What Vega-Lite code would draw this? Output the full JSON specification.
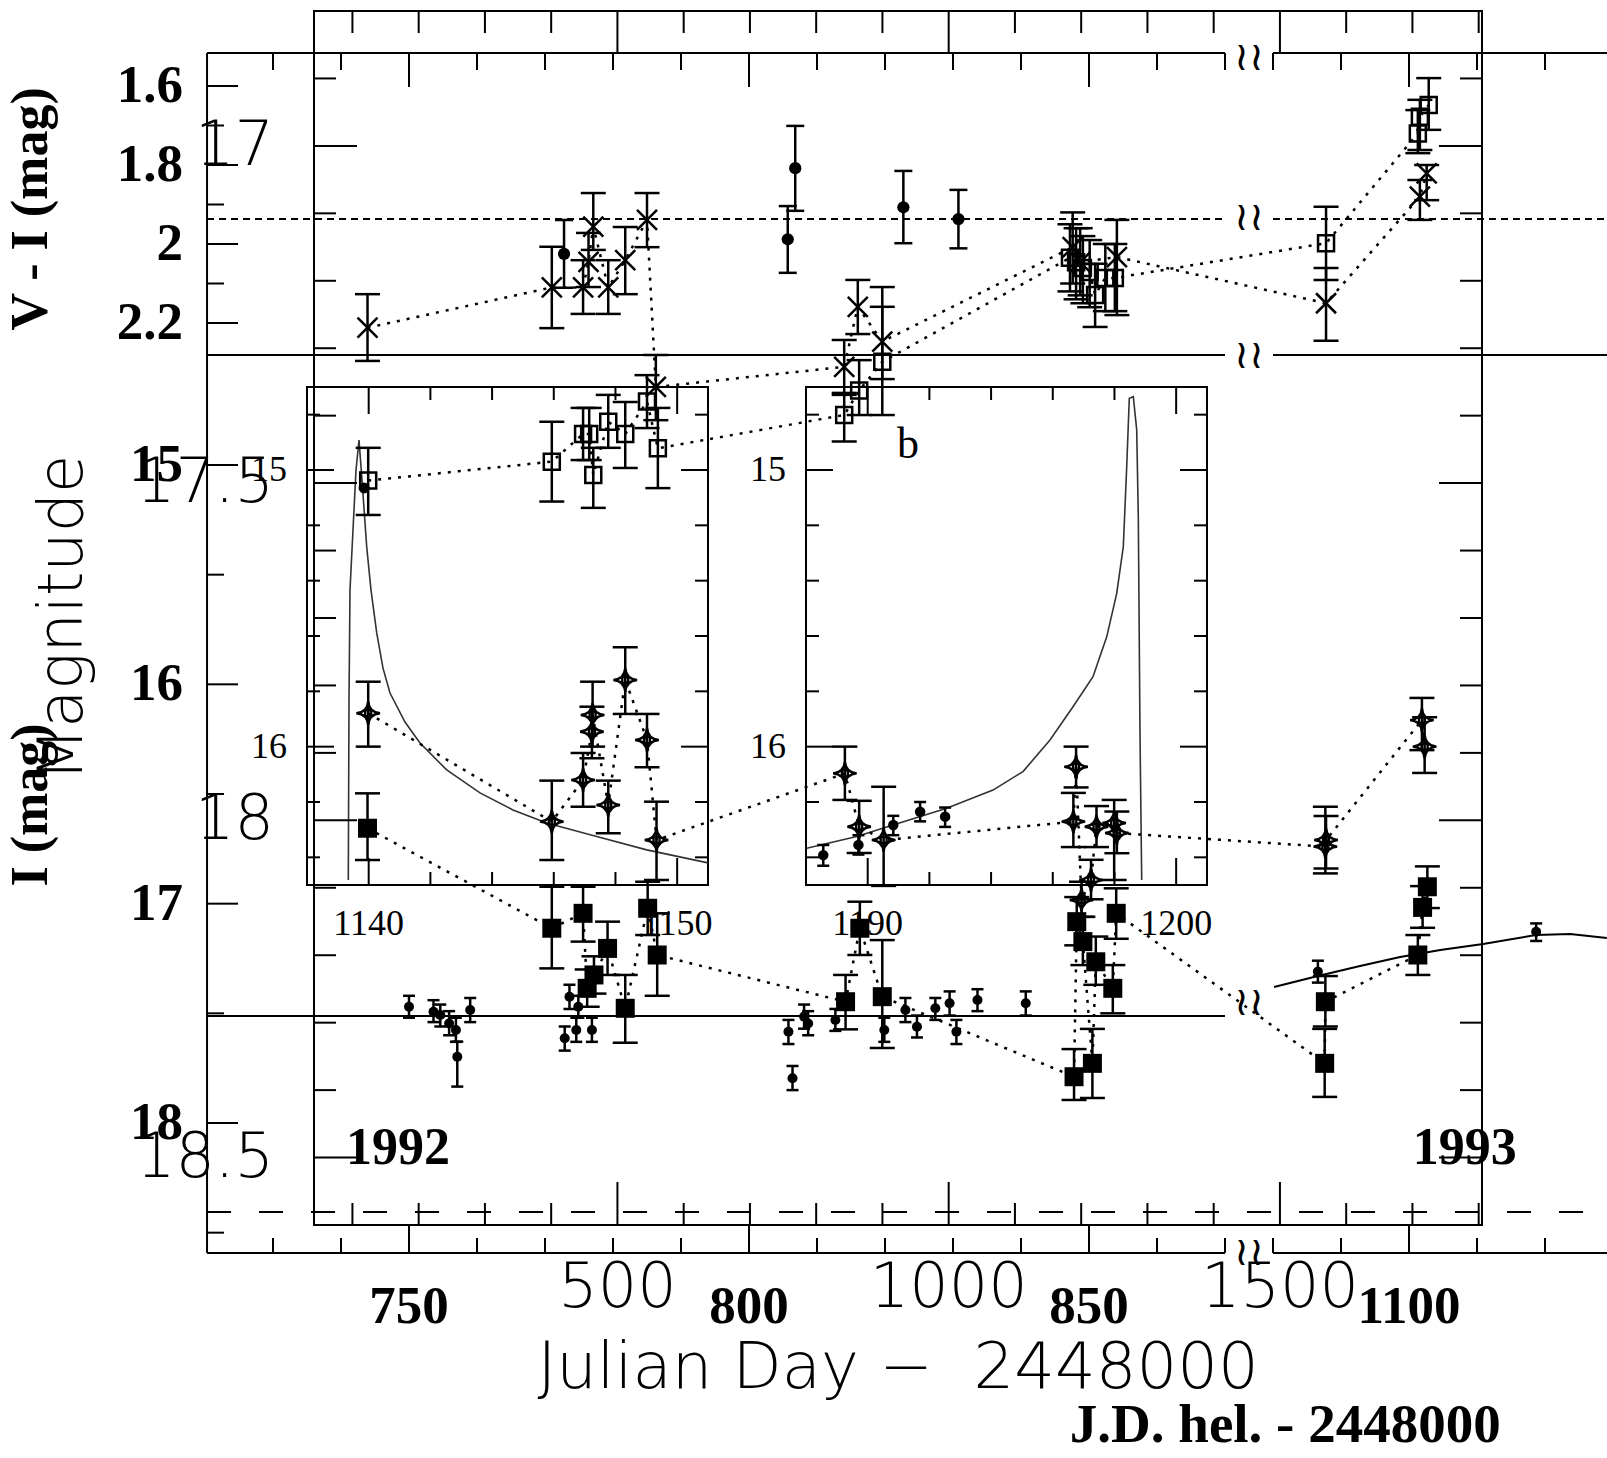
{
"$schema":"https://vega.github.io/schema/vega-lite/v6.json",
"width":1168,"height":1214,
"autosize":{"type":"none"},
"padding":{"left":314,"top":11,"right":125,"bottom":233},
"background":"white",
"config":{"view":{"stroke":"black","strokeWidth":2},"mark":{"color":"black"},"text":{"color":"black"}},
"datasets":{
"viX":[{"jd":743.9,"v":2.212,"lo":2.127,"hi":2.296},{"jd":771.0,"v":2.110,"lo":2.007,"hi":2.213},{"jd":775.6,"v":2.110,"lo":2.041,"hi":2.177},{"jd":776.4,"v":2.045,"lo":1.972,"hi":2.109},{"jd":777.1,"v":1.956,"lo":1.871,"hi":2.015},{"jd":779.3,"v":2.110,"lo":2.041,"hi":2.177},{"jd":781.8,"v":2.041,"lo":1.957,"hi":2.127},{"jd":785.0,"v":1.939,"lo":1.871,"hi":2.008},{"jd":786.3,"v":2.362,"lo":2.281,"hi":2.446},{"jd":814.0,"v":2.311,"lo":2.243,"hi":2.382},{"jd":816.0,"v":2.159,"lo":2.091,"hi":2.228},{"jd":819.6,"v":2.247,"lo":2.109,"hi":2.342},{"jd":847.6,"v":2.008,"lo":1.92,"hi":2.10},{"jd":848.7,"v":2.046,"lo":1.96,"hi":2.13},{"jd":854.1,"v":2.033,"lo":1.939,"hi":2.180},{"jd":1087.8,"v":2.150,"lo":2.061,"hi":2.245},{"jd":1101.6,"v":1.880,"lo":1.838,"hi":1.939},{"jd":1102.6,"v":1.821,"lo":1.800,"hi":1.889}],
"viSq":[{"jd":744.0,"v":2.599,"lo":2.516,"hi":2.686},{"jd":771.0,"v":2.551,"lo":2.450,"hi":2.652},{"jd":775.6,"v":2.481,"lo":2.415,"hi":2.547},{"jd":776.5,"v":2.481,"lo":2.415,"hi":2.547},{"jd":777.1,"v":2.585,"lo":2.516,"hi":2.668},{"jd":779.3,"v":2.450,"lo":2.382,"hi":2.516},{"jd":781.8,"v":2.481,"lo":2.400,"hi":2.567},{"jd":785.0,"v":2.399,"lo":2.332,"hi":2.466},{"jd":786.6,"v":2.517,"lo":2.415,"hi":2.618},{"jd":814.0,"v":2.433,"lo":2.377,"hi":2.500},{"jd":816.2,"v":2.371,"lo":2.294,"hi":2.433},{"jd":819.6,"v":2.298,"lo":2.159,"hi":2.433},{"jd":847.2,"v":2.035,"lo":1.95,"hi":2.12},{"jd":848.1,"v":2.046,"lo":1.96,"hi":2.14},{"jd":849.1,"v":2.061,"lo":1.98,"hi":2.15},{"jd":850.1,"v":2.071,"lo":1.99,"hi":2.16},{"jd":850.9,"v":2.129,"lo":2.05,"hi":2.21},{"jd":852.4,"v":2.086,"lo":2.00,"hi":2.17},{"jd":853.8,"v":2.086,"lo":2.00,"hi":2.17},{"jd":1087.8,"v":1.998,"lo":1.906,"hi":2.091},{"jd":1101.3,"v":1.720,"lo":1.661,"hi":1.770},{"jd":1101.6,"v":1.678,"lo":1.635,"hi":1.762},{"jd":1102.9,"v":1.648,"lo":1.580,"hi":1.711}],
"viDot":[{"jd":772.8,"v":2.025,"lo":1.939,"hi":2.111},{"jd":805.7,"v":1.988,"lo":1.904,"hi":2.073},{"jd":806.8,"v":1.808,"lo":1.701,"hi":1.916},{"jd":822.7,"v":1.907,"lo":1.815,"hi":1.998},{"jd":830.8,"v":1.937,"lo":1.863,"hi":2.011}],
"iStar":[{"jd":744.0,"m":16.132,"lo":15.988,"hi":16.284},{"jd":771.0,"m":16.626,"lo":16.439,"hi":16.801},{"jd":775.6,"m":16.436,"lo":16.313,"hi":16.558},{"jd":776.9,"m":16.216,"lo":16.102,"hi":16.337},{"jd":777.0,"m":16.140,"lo":15.988,"hi":16.284},{"jd":779.3,"m":16.550,"lo":16.439,"hi":16.679},{"jd":781.8,"m":15.980,"lo":15.831,"hi":16.135},{"jd":785.0,"m":16.254,"lo":16.135,"hi":16.378},{"jd":786.4,"m":16.710,"lo":16.535,"hi":16.892},{"jd":814.1,"m":16.406,"lo":16.284,"hi":16.527},{"jd":816.2,"m":16.649,"lo":16.531,"hi":16.769},{"jd":819.8,"m":16.710,"lo":16.467,"hi":16.919},{"jd":847.7,"m":16.626,"lo":16.495,"hi":16.742},{"jd":848.1,"m":16.376,"lo":16.284,"hi":16.470},{"jd":848.9,"m":16.983,"lo":16.90,"hi":17.06},{"jd":850.3,"m":16.892,"lo":16.80,"hi":16.98},{"jd":851.1,"m":16.649,"lo":16.555,"hi":16.742},{"jd":853.7,"m":16.632,"lo":16.527,"hi":16.892},{"jd":854.1,"m":16.678,"lo":16.58,"hi":16.77},{"jd":1087.7,"m":16.740,"lo":16.558,"hi":16.862},{"jd":1087.8,"m":16.710,"lo":16.60,"hi":16.84},{"jd":1101.9,"m":16.163,"lo":16.062,"hi":16.30},{"jd":1102.3,"m":16.284,"lo":16.15,"hi":16.404}],
"iSq":[{"jd":743.9,"m":16.656,"lo":16.497,"hi":16.801},{"jd":771.0,"m":17.112,"lo":16.923,"hi":17.295},{"jd":775.6,"m":17.044,"lo":16.923,"hi":17.173},{"jd":776.2,"m":17.386,"lo":17.30,"hi":17.47},{"jd":777.2,"m":17.325,"lo":17.24,"hi":17.41},{"jd":779.2,"m":17.204,"lo":17.082,"hi":17.325},{"jd":781.8,"m":17.477,"lo":17.325,"hi":17.634},{"jd":785.1,"m":17.021,"lo":16.900,"hi":17.143},{"jd":786.5,"m":17.234,"lo":17.044,"hi":17.420},{"jd":814.2,"m":17.447,"lo":17.325,"hi":17.573},{"jd":816.3,"m":17.112,"lo":16.991,"hi":17.234},{"jd":819.6,"m":17.424,"lo":17.166,"hi":17.658},{"jd":847.8,"m":17.789,"lo":17.663,"hi":17.895},{"jd":848.2,"m":17.082,"lo":16.97,"hi":17.19},{"jd":849.1,"m":17.173,"lo":17.06,"hi":17.28},{"jd":850.5,"m":17.728,"lo":17.571,"hi":17.886},{"jd":851.0,"m":17.265,"lo":17.15,"hi":17.37},{"jd":853.5,"m":17.386,"lo":17.28,"hi":17.50},{"jd":854.0,"m":17.044,"lo":16.93,"hi":17.16},{"jd":1087.6,"m":17.728,"lo":17.571,"hi":17.881},{"jd":1087.7,"m":17.447,"lo":17.33,"hi":17.56},{"jd":1101.3,"m":17.234,"lo":17.143,"hi":17.325},{"jd":1102.0,"m":17.017,"lo":16.92,"hi":17.11},{"jd":1102.7,"m":16.923,"lo":16.83,"hi":17.02}],
"iDot":[{"jd":750.0,"m":17.470,"lo":17.42,"hi":17.52},{"jd":753.6,"m":17.493,"lo":17.44,"hi":17.54},{"jd":754.6,"m":17.508,"lo":17.46,"hi":17.56},{"jd":755.9,"m":17.546,"lo":17.49,"hi":17.60},{"jd":756.9,"m":17.576,"lo":17.52,"hi":17.63},{"jd":757.1,"m":17.698,"lo":17.629,"hi":17.834},{"jd":759.0,"m":17.485,"lo":17.43,"hi":17.54},{"jd":772.9,"m":17.614,"lo":17.56,"hi":17.67},{"jd":773.6,"m":17.424,"lo":17.37,"hi":17.48},{"jd":774.6,"m":17.576,"lo":17.52,"hi":17.63},{"jd":774.9,"m":17.470,"lo":17.42,"hi":17.52},{"jd":776.9,"m":17.576,"lo":17.52,"hi":17.63},{"jd":805.8,"m":17.584,"lo":17.53,"hi":17.64},{"jd":806.4,"m":17.796,"lo":17.74,"hi":17.85},{"jd":808.1,"m":17.515,"lo":17.46,"hi":17.57},{"jd":808.7,"m":17.546,"lo":17.49,"hi":17.60},{"jd":812.7,"m":17.530,"lo":17.48,"hi":17.58},{"jd":819.9,"m":17.576,"lo":17.52,"hi":17.63},{"jd":823.0,"m":17.485,"lo":17.43,"hi":17.54},{"jd":824.7,"m":17.561,"lo":17.51,"hi":17.61},{"jd":827.4,"m":17.477,"lo":17.43,"hi":17.53},{"jd":829.5,"m":17.454,"lo":17.40,"hi":17.51},{"jd":830.5,"m":17.584,"lo":17.53,"hi":17.64},{"jd":833.6,"m":17.439,"lo":17.39,"hi":17.49},{"jd":840.7,"m":17.454,"lo":17.40,"hi":17.51},{"jd":1086.6,"m":17.310,"lo":17.26,"hi":17.36},{"jd":1118.7,"m":17.128,"lo":17.09,"hi":17.17}],
"iCurve":[{"jd":1080.15,"m":17.380},{"jd":1086.6,"m":17.330},{"jd":1092.8,"m":17.284},{"jd":1098.7,"m":17.243},{"jd":1104.6,"m":17.211},{"jd":1110.9,"m":17.184},{"jd":1118.7,"m":17.143},{"jd":1123.7,"m":17.138},{"jd":1129.1,"m":17.157}],
"in1Curve":[{"jd":1139.339,"m":16.482},{"jd":1139.362,"m":15.831},{"jd":1139.394,"m":15.434},{"jd":1139.491,"m":15.217},{"jd":1139.589,"m":15.0},{"jd":1139.686,"m":14.892},{"jd":1139.783,"m":15.036},{"jd":1139.935,"m":15.277},{"jd":1140.075,"m":15.434},{"jd":1140.26,"m":15.589},{"jd":1140.464,"m":15.716},{"jd":1140.691,"m":15.806},{"jd":1141.177,"m":15.911},{"jd":1141.663,"m":15.987},{"jd":1142.529,"m":16.084},{"jd":1143.608,"m":16.167},{"jd":1144.678,"m":16.229},{"jd":1145.771,"m":16.276},{"jd":1147.392,"m":16.325},{"jd":1149.013,"m":16.373},{"jd":1151.0,"m":16.42}],
"in2Curve":[{"jd":1188.023,"m":16.367},{"jd":1189.644,"m":16.325},{"jd":1190.82,"m":16.283},{"jd":1192.561,"m":16.223},{"jd":1194.062,"m":16.157},{"jd":1195.035,"m":16.09},{"jd":1195.91,"m":15.976},{"jd":1196.656,"m":15.856},{"jd":1197.304,"m":15.747},{"jd":1197.749,"m":15.603},{"jd":1198.073,"m":15.446},{"jd":1198.287,"m":15.277},{"jd":1198.397,"m":14.988},{"jd":1198.481,"m":14.741},{"jd":1198.611,"m":14.735},{"jd":1198.721,"m":14.855},{"jd":1198.773,"m":15.169},{"jd":1198.828,"m":15.951},{"jd":1198.883,"m":16.482}],
"in2Dot":[{"jd":1188.56,"m":16.392,"lo":16.355,"hi":16.43},{"jd":1189.7,"m":16.355,"lo":16.32,"hi":16.39},{"jd":1190.83,"m":16.283,"lo":16.25,"hi":16.32},{"jd":1191.7,"m":16.235,"lo":16.2,"hi":16.27},{"jd":1192.51,"m":16.253,"lo":16.22,"hi":16.29}],
"in1Dot":[{"jd":1139.85,"m":15.065}],
"segs":[{"a":720.3,"b":870},{"a":1080,"b":1130}],
"segL":[{"a":720.3,"b":870}],
"segF":[{"a":720.3,"b":1130}],
"rXL":[{"v":750},{"v":800},{"v":850},{"v":1100}],
"rXS":[{"v":730},{"v":740},{"v":760},{"v":770},{"v":780},{"v":790},{"v":810},{"v":820},{"v":830},{"v":840},{"v":860},{"v":870},{"v":1080},{"v":1090},{"v":1110},{"v":1120}],
"vYL":[{"v":1.6},{"v":1.8},{"v":2.0},{"v":2.2}],
"vYS":[{"v":1.7},{"v":1.9},{"v":2.1}],
"iYL":[{"v":15},{"v":16},{"v":17},{"v":18}],
"iYS":[{"v":15.5},{"v":16.5},{"v":17.5},{"v":18.5}],
"in1XL":[{"v":1140},{"v":1150}],
"in1XS":[{"v":1142},{"v":1144},{"v":1146},{"v":1148}],
"in2XL":[{"v":1190},{"v":1200}],
"in2XS":[{"v":1192},{"v":1194},{"v":1196},{"v":1198}],
"inYL":[{"v":15},{"v":16}],
"inYS":[{"v":14.8},{"v":15.2},{"v":15.4},{"v":15.6},{"v":15.8},{"v":16.2},{"v":16.4}],
"mXL":[{"v":500},{"v":1000},{"v":1500}],
"mXS":[{"v":100},{"v":200},{"v":300},{"v":400},{"v":600},{"v":700},{"v":800},{"v":900},{"v":1100},{"v":1200},{"v":1300},{"v":1400},{"v":1600},{"v":1700},{"v":1800}],
"mYL":[{"v":17},{"v":17.5},{"v":18},{"v":18.5}],
"mYS":[{"v":16.9},{"v":17.1},{"v":17.2},{"v":17.3},{"v":17.4},{"v":17.6},{"v":17.7},{"v":17.8},{"v":17.9},{"v":18.1},{"v":18.2},{"v":18.3},{"v":18.4}],
"mXLab":[{"v":500,"t":"500"},{"v":1000,"t":"1000"},{"v":1500,"t":"1500"}],
"mYLab":[{"v":17,"t":"17"},{"v":17.5,"t":"17.5"},{"v":18,"t":"18"},{"v":18.5,"t":"18.5"}],
"vLab":[{"v":1.6,"t":"1.6"},{"v":1.8,"t":"1.8"},{"v":2.0,"t":"2"},{"v":2.2,"t":"2.2"}],
"iLab":[{"v":15,"t":"15"},{"v":16,"t":"16"},{"v":17,"t":"17"},{"v":18,"t":"18"}],
"rXLab":[{"v":750,"t":"750"},{"v":800,"t":"800"},{"v":850,"t":"850"},{"v":1100,"t":"1100"}],
"vTitle":[{"jd":694.4,"v":1.911,"t":"V - I (mag)"}],
"iTitle":[{"jd":694.4,"m":16.55,"t":"I (mag)"}],
"iText":[{"jd":748.4,"m":18.114,"t":"1992"},{"jd":1108.2,"m":18.114,"t":"1993"}],
"jdText":[{"jd":1081.8,"m":19.377,"t":"J.D. hel. - 2448000"}],
"breaks":[{"jd":975,"m":13.144},{"jd":975,"m":13.874},{"jd":975,"m":14.503},{"jd":975,"m":17.453},{"jd":975,"m":18.593}],
"inYLab":[{"v":15,"t":"15"},{"v":16,"t":"16"}],
"in1XLab":[{"v":1140,"t":"1140"},{"v":1150,"t":"1150"}],
"in2XLab":[{"v":1190,"t":"1190"},{"v":1200,"t":"1200"}],
"bLab":[{"jd":1191.31,"m":14.91,"t":"b"}]
},
"resolve":{"scale":{"x":"independent","y":"independent"}},
"layer":[
{"layer":[
{"data":{"values":[{}]},"mark":{"type":"rect","filled":false,"stroke":"black","strokeWidth":2,"opacity":1},"encoding":{"x":{"datum":1138,"type":"quantitative","scale":{"domain":[1138,1151],"range":[-7,394],"nice":false,"zero":false},"axis":null},"x2":{"datum":1151},"y":{"datum":14.7,"type":"quantitative","scale":{"domain":[14.7,16.5],"range":[376,874],"nice":false,"zero":false},"axis":null},"y2":{"datum":16.5}}},
{"data":{"name":"in1Curve"},"mark":{"type":"line","strokeWidth":1.6,"color":"#333"},"encoding":{"x":{"field":"jd","type":"quantitative","scale":{"domain":[1138,1151],"range":[-7,394],"nice":false,"zero":false},"axis":null},"y":{"field":"m","type":"quantitative","scale":{"domain":[14.7,16.5],"range":[376,874],"nice":false,"zero":false},"axis":null}}},
{"data":{"name":"in1XL"},"mark":{"type":"tick","orient":"vertical","size":27,"thickness":2,"yOffset":13.5,"opacity":1},"encoding":{"x":{"field":"v","type":"quantitative","scale":{"domain":[1138,1151],"range":[-7,394],"nice":false,"zero":false},"axis":null},"y":{"datum":14.7,"type":"quantitative","scale":{"domain":[14.7,16.5],"range":[376,874],"nice":false,"zero":false},"axis":null}}},
{"data":{"name":"in1XL"},"mark":{"type":"tick","orient":"vertical","size":27,"thickness":2,"yOffset":-13.5,"opacity":1},"encoding":{"x":{"field":"v","type":"quantitative","scale":{"domain":[1138,1151],"range":[-7,394],"nice":false,"zero":false},"axis":null},"y":{"datum":16.5,"type":"quantitative","scale":{"domain":[14.7,16.5],"range":[376,874],"nice":false,"zero":false},"axis":null}}},
{"data":{"name":"in1XS"},"mark":{"type":"tick","orient":"vertical","size":13,"thickness":2,"yOffset":6.5,"opacity":1},"encoding":{"x":{"field":"v","type":"quantitative","scale":{"domain":[1138,1151],"range":[-7,394],"nice":false,"zero":false},"axis":null},"y":{"datum":14.7,"type":"quantitative","scale":{"domain":[14.7,16.5],"range":[376,874],"nice":false,"zero":false},"axis":null}}},
{"data":{"name":"in1XS"},"mark":{"type":"tick","orient":"vertical","size":13,"thickness":2,"yOffset":-6.5,"opacity":1},"encoding":{"x":{"field":"v","type":"quantitative","scale":{"domain":[1138,1151],"range":[-7,394],"nice":false,"zero":false},"axis":null},"y":{"datum":16.5,"type":"quantitative","scale":{"domain":[14.7,16.5],"range":[376,874],"nice":false,"zero":false},"axis":null}}},
{"data":{"name":"inYL"},"mark":{"type":"tick","orient":"horizontal","size":27,"thickness":2,"xOffset":13.5,"opacity":1},"encoding":{"x":{"datum":1138,"type":"quantitative","scale":{"domain":[1138,1151],"range":[-7,394],"nice":false,"zero":false},"axis":null},"y":{"field":"v","type":"quantitative","scale":{"domain":[14.7,16.5],"range":[376,874],"nice":false,"zero":false},"axis":null}}},
{"data":{"name":"inYL"},"mark":{"type":"tick","orient":"horizontal","size":27,"thickness":2,"xOffset":-13.5,"opacity":1},"encoding":{"x":{"datum":1151,"type":"quantitative","scale":{"domain":[1138,1151],"range":[-7,394],"nice":false,"zero":false},"axis":null},"y":{"field":"v","type":"quantitative","scale":{"domain":[14.7,16.5],"range":[376,874],"nice":false,"zero":false},"axis":null}}},
{"data":{"name":"inYS"},"mark":{"type":"tick","orient":"horizontal","size":13,"thickness":2,"xOffset":6.5,"opacity":1},"encoding":{"x":{"datum":1138,"type":"quantitative","scale":{"domain":[1138,1151],"range":[-7,394],"nice":false,"zero":false},"axis":null},"y":{"field":"v","type":"quantitative","scale":{"domain":[14.7,16.5],"range":[376,874],"nice":false,"zero":false},"axis":null}}},
{"data":{"name":"inYS"},"mark":{"type":"tick","orient":"horizontal","size":13,"thickness":2,"xOffset":-6.5,"opacity":1},"encoding":{"x":{"datum":1151,"type":"quantitative","scale":{"domain":[1138,1151],"range":[-7,394],"nice":false,"zero":false},"axis":null},"y":{"field":"v","type":"quantitative","scale":{"domain":[14.7,16.5],"range":[376,874],"nice":false,"zero":false},"axis":null}}},
{"data":{"name":"inYLab"},"mark":{"type":"text","align":"right","baseline":"middle","dx":-20,"font":"Liberation Serif","fontSize":36},"encoding":{"x":{"datum":1138,"type":"quantitative","scale":{"domain":[1138,1151],"range":[-7,394],"nice":false,"zero":false},"axis":null},"y":{"field":"v","type":"quantitative","scale":{"domain":[14.7,16.5],"range":[376,874],"nice":false,"zero":false},"axis":null},"text":{"field":"t","type":"nominal"}}},
{"data":{"name":"in1XLab"},"mark":{"type":"text","align":"center","baseline":"middle","dy":39,"font":"Liberation Serif","fontSize":36},"encoding":{"x":{"field":"v","type":"quantitative","scale":{"domain":[1138,1151],"range":[-7,394],"nice":false,"zero":false},"axis":null},"y":{"datum":16.5,"type":"quantitative","scale":{"domain":[14.7,16.5],"range":[376,874],"nice":false,"zero":false},"axis":null},"text":{"field":"t","type":"nominal"}}},
{"data":{"name":"in1Dot"},"mark":{"type":"point","shape":"circle","filled":true,"size":120,"opacity":1},"encoding":{"x":{"field":"jd","type":"quantitative","scale":{"domain":[1138,1151],"range":[-7,394],"nice":false,"zero":false},"axis":null},"y":{"field":"m","type":"quantitative","scale":{"domain":[14.7,16.5],"range":[376,874],"nice":false,"zero":false},"axis":null}}}
]},
{"layer":[
{"data":{"values":[{}]},"mark":{"type":"rect","filled":false,"stroke":"black","strokeWidth":2,"opacity":1},"encoding":{"x":{"datum":1188,"type":"quantitative","scale":{"domain":[1188,1201],"range":[492,893],"nice":false,"zero":false},"axis":null},"x2":{"datum":1201},"y":{"datum":14.7,"type":"quantitative","scale":{"domain":[14.7,16.5],"range":[376,874],"nice":false,"zero":false},"axis":null},"y2":{"datum":16.5}}},
{"data":{"name":"in2Curve"},"mark":{"type":"line","strokeWidth":1.6,"color":"#333"},"encoding":{"x":{"field":"jd","type":"quantitative","scale":{"domain":[1188,1201],"range":[492,893],"nice":false,"zero":false},"axis":null},"y":{"field":"m","type":"quantitative","scale":{"domain":[14.7,16.5],"range":[376,874],"nice":false,"zero":false},"axis":null}}},
{"data":{"name":"in2XL"},"mark":{"type":"tick","orient":"vertical","size":27,"thickness":2,"yOffset":13.5,"opacity":1},"encoding":{"x":{"field":"v","type":"quantitative","scale":{"domain":[1188,1201],"range":[492,893],"nice":false,"zero":false},"axis":null},"y":{"datum":14.7,"type":"quantitative","scale":{"domain":[14.7,16.5],"range":[376,874],"nice":false,"zero":false},"axis":null}}},
{"data":{"name":"in2XL"},"mark":{"type":"tick","orient":"vertical","size":27,"thickness":2,"yOffset":-13.5,"opacity":1},"encoding":{"x":{"field":"v","type":"quantitative","scale":{"domain":[1188,1201],"range":[492,893],"nice":false,"zero":false},"axis":null},"y":{"datum":16.5,"type":"quantitative","scale":{"domain":[14.7,16.5],"range":[376,874],"nice":false,"zero":false},"axis":null}}},
{"data":{"name":"in2XS"},"mark":{"type":"tick","orient":"vertical","size":13,"thickness":2,"yOffset":6.5,"opacity":1},"encoding":{"x":{"field":"v","type":"quantitative","scale":{"domain":[1188,1201],"range":[492,893],"nice":false,"zero":false},"axis":null},"y":{"datum":14.7,"type":"quantitative","scale":{"domain":[14.7,16.5],"range":[376,874],"nice":false,"zero":false},"axis":null}}},
{"data":{"name":"in2XS"},"mark":{"type":"tick","orient":"vertical","size":13,"thickness":2,"yOffset":-6.5,"opacity":1},"encoding":{"x":{"field":"v","type":"quantitative","scale":{"domain":[1188,1201],"range":[492,893],"nice":false,"zero":false},"axis":null},"y":{"datum":16.5,"type":"quantitative","scale":{"domain":[14.7,16.5],"range":[376,874],"nice":false,"zero":false},"axis":null}}},
{"data":{"name":"inYL"},"mark":{"type":"tick","orient":"horizontal","size":27,"thickness":2,"xOffset":13.5,"opacity":1},"encoding":{"x":{"datum":1188,"type":"quantitative","scale":{"domain":[1188,1201],"range":[492,893],"nice":false,"zero":false},"axis":null},"y":{"field":"v","type":"quantitative","scale":{"domain":[14.7,16.5],"range":[376,874],"nice":false,"zero":false},"axis":null}}},
{"data":{"name":"inYL"},"mark":{"type":"tick","orient":"horizontal","size":27,"thickness":2,"xOffset":-13.5,"opacity":1},"encoding":{"x":{"datum":1201,"type":"quantitative","scale":{"domain":[1188,1201],"range":[492,893],"nice":false,"zero":false},"axis":null},"y":{"field":"v","type":"quantitative","scale":{"domain":[14.7,16.5],"range":[376,874],"nice":false,"zero":false},"axis":null}}},
{"data":{"name":"inYS"},"mark":{"type":"tick","orient":"horizontal","size":13,"thickness":2,"xOffset":6.5,"opacity":1},"encoding":{"x":{"datum":1188,"type":"quantitative","scale":{"domain":[1188,1201],"range":[492,893],"nice":false,"zero":false},"axis":null},"y":{"field":"v","type":"quantitative","scale":{"domain":[14.7,16.5],"range":[376,874],"nice":false,"zero":false},"axis":null}}},
{"data":{"name":"inYS"},"mark":{"type":"tick","orient":"horizontal","size":13,"thickness":2,"xOffset":-6.5,"opacity":1},"encoding":{"x":{"datum":1201,"type":"quantitative","scale":{"domain":[1188,1201],"range":[492,893],"nice":false,"zero":false},"axis":null},"y":{"field":"v","type":"quantitative","scale":{"domain":[14.7,16.5],"range":[376,874],"nice":false,"zero":false},"axis":null}}},
{"data":{"name":"inYLab"},"mark":{"type":"text","align":"right","baseline":"middle","dx":-20,"font":"Liberation Serif","fontSize":36},"encoding":{"x":{"datum":1188,"type":"quantitative","scale":{"domain":[1188,1201],"range":[492,893],"nice":false,"zero":false},"axis":null},"y":{"field":"v","type":"quantitative","scale":{"domain":[14.7,16.5],"range":[376,874],"nice":false,"zero":false},"axis":null},"text":{"field":"t","type":"nominal"}}},
{"data":{"name":"in2XLab"},"mark":{"type":"text","align":"center","baseline":"middle","dy":39,"font":"Liberation Serif","fontSize":36},"encoding":{"x":{"field":"v","type":"quantitative","scale":{"domain":[1188,1201],"range":[492,893],"nice":false,"zero":false},"axis":null},"y":{"datum":16.5,"type":"quantitative","scale":{"domain":[14.7,16.5],"range":[376,874],"nice":false,"zero":false},"axis":null},"text":{"field":"t","type":"nominal"}}},
{"data":{"name":"bLab"},"mark":{"type":"text","align":"center","baseline":"middle","font":"Liberation Serif","fontSize":44},"encoding":{"x":{"field":"jd","type":"quantitative","scale":{"domain":[1188,1201],"range":[492,893],"nice":false,"zero":false},"axis":null},"y":{"field":"m","type":"quantitative","scale":{"domain":[14.7,16.5],"range":[376,874],"nice":false,"zero":false},"axis":null},"text":{"field":"t","type":"nominal"}}},
{"data":{"name":"in2Dot"},"mark":{"type":"rule","strokeWidth":2.5},"encoding":{"x":{"field":"jd","type":"quantitative","scale":{"domain":[1188,1201],"range":[492,893],"nice":false,"zero":false},"axis":null},"y":{"field":"lo","type":"quantitative","scale":{"domain":[14.7,16.5],"range":[376,874],"nice":false,"zero":false},"axis":null},"y2":{"field":"hi"}}},
{"data":{"name":"in2Dot"},"transform":[{"fold":["lo","hi"],"as":["k","e"]}],"mark":{"type":"tick","orient":"horizontal","size":12,"thickness":2.5,"opacity":1},"encoding":{"x":{"field":"jd","type":"quantitative","scale":{"domain":[1188,1201],"range":[492,893],"nice":false,"zero":false},"axis":null},"y":{"field":"e","type":"quantitative","scale":{"domain":[14.7,16.5],"range":[376,874],"nice":false,"zero":false},"axis":null}}},
{"data":{"name":"in2Dot"},"mark":{"type":"point","shape":"circle","filled":true,"size":110,"opacity":1},"encoding":{"x":{"field":"jd","type":"quantitative","scale":{"domain":[1188,1201],"range":[492,893],"nice":false,"zero":false},"axis":null},"y":{"field":"m","type":"quantitative","scale":{"domain":[14.7,16.5],"range":[376,874],"nice":false,"zero":false},"axis":null}}}
]},
{"layer":[
{"data":{"name":"segs"},"mark":{"type":"rule","strokeWidth":2},"encoding":{"x":{"field":"a","type":"quantitative","scale":{"domain":[750,870,1080,1100],"range":[95,911,959,1095],"nice":false,"zero":false},"axis":null},"x2":{"field":"b"},"y":{"datum":1.5165,"type":"quantitative","scale":{"domain":[1.6,2.2],"range":[75,312],"nice":false,"zero":false},"axis":null}}},
{"data":{"name":"segs"},"mark":{"type":"rule","strokeWidth":2},"encoding":{"x":{"field":"a","type":"quantitative","scale":{"domain":[750,870,1080,1100],"range":[95,911,959,1095],"nice":false,"zero":false},"axis":null},"x2":{"field":"b"},"y":{"datum":2.281,"type":"quantitative","scale":{"domain":[1.6,2.2],"range":[75,312],"nice":false,"zero":false},"axis":null}}},
{"data":{"name":"segs"},"mark":{"type":"rule","strokeWidth":2,"strokeDash":[7,5]},"encoding":{"x":{"field":"a","type":"quantitative","scale":{"domain":[750,870,1080,1100],"range":[95,911,959,1095],"nice":false,"zero":false},"axis":null},"x2":{"field":"b"},"y":{"datum":1.937,"type":"quantitative","scale":{"domain":[1.6,2.2],"range":[75,312],"nice":false,"zero":false},"axis":null}}},
{"data":{"name":"vYL"},"mark":{"type":"tick","orient":"horizontal","size":31,"thickness":2,"xOffset":15.5,"opacity":1},"encoding":{"x":{"datum":720.3,"type":"quantitative","scale":{"domain":[750,870,1080,1100],"range":[95,911,959,1095],"nice":false,"zero":false},"axis":null},"y":{"field":"v","type":"quantitative","scale":{"domain":[1.6,2.2],"range":[75,312],"nice":false,"zero":false},"axis":null}}},
{"data":{"name":"vYS"},"mark":{"type":"tick","orient":"horizontal","size":17,"thickness":2,"xOffset":8.5,"opacity":1},"encoding":{"x":{"datum":720.3,"type":"quantitative","scale":{"domain":[750,870,1080,1100],"range":[95,911,959,1095],"nice":false,"zero":false},"axis":null},"y":{"field":"v","type":"quantitative","scale":{"domain":[1.6,2.2],"range":[75,312],"nice":false,"zero":false},"axis":null}}},
{"data":{"name":"rXL"},"mark":{"type":"tick","orient":"vertical","size":34,"thickness":2,"yOffset":17,"opacity":1},"encoding":{"x":{"field":"v","type":"quantitative","scale":{"domain":[750,870,1080,1100],"range":[95,911,959,1095],"nice":false,"zero":false},"axis":null},"y":{"datum":1.5165,"type":"quantitative","scale":{"domain":[1.6,2.2],"range":[75,312],"nice":false,"zero":false},"axis":null}}},
{"data":{"name":"rXS"},"mark":{"type":"tick","orient":"vertical","size":17,"thickness":2,"yOffset":8.5,"opacity":1},"encoding":{"x":{"field":"v","type":"quantitative","scale":{"domain":[750,870,1080,1100],"range":[95,911,959,1095],"nice":false,"zero":false},"axis":null},"y":{"datum":1.5165,"type":"quantitative","scale":{"domain":[1.6,2.2],"range":[75,312],"nice":false,"zero":false},"axis":null}}},
{"data":{"name":"vLab"},"mark":{"type":"text","align":"right","baseline":"middle","dx":-24,"font":"Liberation Serif","fontWeight":"bold","fontSize":53},"encoding":{"x":{"datum":720.3,"type":"quantitative","scale":{"domain":[750,870,1080,1100],"range":[95,911,959,1095],"nice":false,"zero":false},"axis":null},"y":{"field":"v","type":"quantitative","scale":{"domain":[1.6,2.2],"range":[75,312],"nice":false,"zero":false},"axis":null},"text":{"field":"t","type":"nominal"}}},
{"data":{"name":"vTitle"},"mark":{"type":"text","align":"center","baseline":"middle","angle":270,"font":"Liberation Serif","fontWeight":"bold","fontSize":52},"encoding":{"x":{"field":"jd","type":"quantitative","scale":{"domain":[750,870,1080,1100],"range":[95,911,959,1095],"nice":false,"zero":false},"axis":null},"y":{"field":"v","type":"quantitative","scale":{"domain":[1.6,2.2],"range":[75,312],"nice":false,"zero":false},"axis":null},"text":{"field":"t","type":"nominal"}}},
{"data":{"name":"viX"},"mark":{"type":"rule","strokeWidth":2.5},"encoding":{"x":{"field":"jd","type":"quantitative","scale":{"domain":[750,870,1080,1100],"range":[95,911,959,1095],"nice":false,"zero":false},"axis":null},"y":{"field":"lo","type":"quantitative","scale":{"domain":[1.6,2.2],"range":[75,312],"nice":false,"zero":false},"axis":null},"y2":{"field":"hi"}}},
{"data":{"name":"viX"},"transform":[{"fold":["lo","hi"],"as":["k","e"]}],"mark":{"type":"tick","orient":"horizontal","size":25,"thickness":2.5,"opacity":1},"encoding":{"x":{"field":"jd","type":"quantitative","scale":{"domain":[750,870,1080,1100],"range":[95,911,959,1095],"nice":false,"zero":false},"axis":null},"y":{"field":"e","type":"quantitative","scale":{"domain":[1.6,2.2],"range":[75,312],"nice":false,"zero":false},"axis":null}}},
{"data":{"name":"viX"},"mark":{"type":"line","strokeWidth":2.5,"strokeDash":[3,7]},"encoding":{"x":{"field":"jd","type":"quantitative","scale":{"domain":[750,870,1080,1100],"range":[95,911,959,1095],"nice":false,"zero":false},"axis":null},"y":{"field":"v","type":"quantitative","scale":{"domain":[1.6,2.2],"range":[75,312],"nice":false,"zero":false},"axis":null}}},
{"data":{"name":"viX"},"mark":{"type":"point","shape":"M-1,-1L1,1M-1,1L1,-1","filled":false,"size":400,"strokeWidth":2.5,"opacity":1},"encoding":{"x":{"field":"jd","type":"quantitative","scale":{"domain":[750,870,1080,1100],"range":[95,911,959,1095],"nice":false,"zero":false},"axis":null},"y":{"field":"v","type":"quantitative","scale":{"domain":[1.6,2.2],"range":[75,312],"nice":false,"zero":false},"axis":null}}},
{"data":{"name":"viSq"},"mark":{"type":"rule","strokeWidth":2.5},"encoding":{"x":{"field":"jd","type":"quantitative","scale":{"domain":[750,870,1080,1100],"range":[95,911,959,1095],"nice":false,"zero":false},"axis":null},"y":{"field":"lo","type":"quantitative","scale":{"domain":[1.6,2.2],"range":[75,312],"nice":false,"zero":false},"axis":null},"y2":{"field":"hi"}}},
{"data":{"name":"viSq"},"transform":[{"fold":["lo","hi"],"as":["k","e"]}],"mark":{"type":"tick","orient":"horizontal","size":25,"thickness":2.5,"opacity":1},"encoding":{"x":{"field":"jd","type":"quantitative","scale":{"domain":[750,870,1080,1100],"range":[95,911,959,1095],"nice":false,"zero":false},"axis":null},"y":{"field":"e","type":"quantitative","scale":{"domain":[1.6,2.2],"range":[75,312],"nice":false,"zero":false},"axis":null}}},
{"data":{"name":"viSq"},"mark":{"type":"line","strokeWidth":2.5,"strokeDash":[3,7]},"encoding":{"x":{"field":"jd","type":"quantitative","scale":{"domain":[750,870,1080,1100],"range":[95,911,959,1095],"nice":false,"zero":false},"axis":null},"y":{"field":"v","type":"quantitative","scale":{"domain":[1.6,2.2],"range":[75,312],"nice":false,"zero":false},"axis":null}}},
{"data":{"name":"viSq"},"mark":{"type":"point","shape":"square","filled":false,"size":256,"strokeWidth":2.5,"opacity":1},"encoding":{"x":{"field":"jd","type":"quantitative","scale":{"domain":[750,870,1080,1100],"range":[95,911,959,1095],"nice":false,"zero":false},"axis":null},"y":{"field":"v","type":"quantitative","scale":{"domain":[1.6,2.2],"range":[75,312],"nice":false,"zero":false},"axis":null}}},
{"data":{"name":"viDot"},"mark":{"type":"rule","strokeWidth":2.5},"encoding":{"x":{"field":"jd","type":"quantitative","scale":{"domain":[750,870,1080,1100],"range":[95,911,959,1095],"nice":false,"zero":false},"axis":null},"y":{"field":"lo","type":"quantitative","scale":{"domain":[1.6,2.2],"range":[75,312],"nice":false,"zero":false},"axis":null},"y2":{"field":"hi"}}},
{"data":{"name":"viDot"},"transform":[{"fold":["lo","hi"],"as":["k","e"]}],"mark":{"type":"tick","orient":"horizontal","size":18,"thickness":2.5,"opacity":1},"encoding":{"x":{"field":"jd","type":"quantitative","scale":{"domain":[750,870,1080,1100],"range":[95,911,959,1095],"nice":false,"zero":false},"axis":null},"y":{"field":"e","type":"quantitative","scale":{"domain":[1.6,2.2],"range":[75,312],"nice":false,"zero":false},"axis":null}}},
{"data":{"name":"viDot"},"mark":{"type":"point","shape":"circle","filled":true,"size":150,"opacity":1},"encoding":{"x":{"field":"jd","type":"quantitative","scale":{"domain":[750,870,1080,1100],"range":[95,911,959,1095],"nice":false,"zero":false},"axis":null},"y":{"field":"v","type":"quantitative","scale":{"domain":[1.6,2.2],"range":[75,312],"nice":false,"zero":false},"axis":null}}}
]},
{"layer":[
{"data":{"values":[{}]},"mark":{"type":"rule","strokeWidth":2},"encoding":{"x":{"datum":720.3,"type":"quantitative","scale":{"domain":[750,870,1080,1100],"range":[95,911,959,1095],"nice":false,"zero":false},"axis":null},"y":{"datum":13.122,"type":"quantitative","scale":{"domain":[15,18],"range":[454,1112],"nice":false,"zero":false},"axis":null},"y2":{"datum":18.593}}},
{"data":{"name":"segs"},"mark":{"type":"rule","strokeWidth":2},"encoding":{"x":{"field":"a","type":"quantitative","scale":{"domain":[750,870,1080,1100],"range":[95,911,959,1095],"nice":false,"zero":false},"axis":null},"x2":{"field":"b"},"y":{"datum":18.593,"type":"quantitative","scale":{"domain":[15,18],"range":[454,1112],"nice":false,"zero":false},"axis":null}}},
{"data":{"name":"segL"},"mark":{"type":"rule","strokeWidth":2},"encoding":{"x":{"field":"a","type":"quantitative","scale":{"domain":[750,870,1080,1100],"range":[95,911,959,1095],"nice":false,"zero":false},"axis":null},"x2":{"field":"b"},"y":{"datum":17.512,"type":"quantitative","scale":{"domain":[15,18],"range":[454,1112],"nice":false,"zero":false},"axis":null}}},
{"data":{"name":"segF"},"mark":{"type":"rule","strokeWidth":2,"strokeDash":[24,28]},"encoding":{"x":{"field":"a","type":"quantitative","scale":{"domain":[750,870,1080,1100],"range":[95,911,959,1095],"nice":false,"zero":false},"axis":null},"x2":{"field":"b"},"y":{"datum":18.406,"type":"quantitative","scale":{"domain":[15,18],"range":[454,1112],"nice":false,"zero":false},"axis":null}}},
{"data":{"name":"iYL"},"mark":{"type":"tick","orient":"horizontal","size":31,"thickness":2,"xOffset":15.5,"opacity":1},"encoding":{"x":{"datum":720.3,"type":"quantitative","scale":{"domain":[750,870,1080,1100],"range":[95,911,959,1095],"nice":false,"zero":false},"axis":null},"y":{"field":"v","type":"quantitative","scale":{"domain":[15,18],"range":[454,1112],"nice":false,"zero":false},"axis":null}}},
{"data":{"name":"iYS"},"mark":{"type":"tick","orient":"horizontal","size":17,"thickness":2,"xOffset":8.5,"opacity":1},"encoding":{"x":{"datum":720.3,"type":"quantitative","scale":{"domain":[750,870,1080,1100],"range":[95,911,959,1095],"nice":false,"zero":false},"axis":null},"y":{"field":"v","type":"quantitative","scale":{"domain":[15,18],"range":[454,1112],"nice":false,"zero":false},"axis":null}}},
{"data":{"name":"rXL"},"mark":{"type":"tick","orient":"vertical","size":28,"thickness":2,"yOffset":-14,"opacity":1},"encoding":{"x":{"field":"v","type":"quantitative","scale":{"domain":[750,870,1080,1100],"range":[95,911,959,1095],"nice":false,"zero":false},"axis":null},"y":{"datum":18.593,"type":"quantitative","scale":{"domain":[15,18],"range":[454,1112],"nice":false,"zero":false},"axis":null}}},
{"data":{"name":"rXS"},"mark":{"type":"tick","orient":"vertical","size":15,"thickness":2,"yOffset":-7.5,"opacity":1},"encoding":{"x":{"field":"v","type":"quantitative","scale":{"domain":[750,870,1080,1100],"range":[95,911,959,1095],"nice":false,"zero":false},"axis":null},"y":{"datum":18.593,"type":"quantitative","scale":{"domain":[15,18],"range":[454,1112],"nice":false,"zero":false},"axis":null}}},
{"data":{"name":"rXLab"},"mark":{"type":"text","align":"center","baseline":"middle","dy":54,"font":"Liberation Serif","fontWeight":"bold","fontSize":53},"encoding":{"x":{"field":"v","type":"quantitative","scale":{"domain":[750,870,1080,1100],"range":[95,911,959,1095],"nice":false,"zero":false},"axis":null},"y":{"datum":18.593,"type":"quantitative","scale":{"domain":[15,18],"range":[454,1112],"nice":false,"zero":false},"axis":null},"text":{"field":"t","type":"nominal"}}},
{"data":{"name":"iLab"},"mark":{"type":"text","align":"right","baseline":"middle","dx":-24,"font":"Liberation Serif","fontWeight":"bold","fontSize":53},"encoding":{"x":{"datum":720.3,"type":"quantitative","scale":{"domain":[750,870,1080,1100],"range":[95,911,959,1095],"nice":false,"zero":false},"axis":null},"y":{"field":"v","type":"quantitative","scale":{"domain":[15,18],"range":[454,1112],"nice":false,"zero":false},"axis":null},"text":{"field":"t","type":"nominal"}}},
{"data":{"name":"iTitle"},"mark":{"type":"text","align":"center","baseline":"middle","angle":270,"font":"Liberation Serif","fontWeight":"bold","fontSize":52},"encoding":{"x":{"field":"jd","type":"quantitative","scale":{"domain":[750,870,1080,1100],"range":[95,911,959,1095],"nice":false,"zero":false},"axis":null},"y":{"field":"m","type":"quantitative","scale":{"domain":[15,18],"range":[454,1112],"nice":false,"zero":false},"axis":null},"text":{"field":"t","type":"nominal"}}},
{"data":{"name":"iText"},"mark":{"type":"text","align":"center","baseline":"middle","font":"Liberation Serif","fontWeight":"bold","fontSize":52},"encoding":{"x":{"field":"jd","type":"quantitative","scale":{"domain":[750,870,1080,1100],"range":[95,911,959,1095],"nice":false,"zero":false},"axis":null},"y":{"field":"m","type":"quantitative","scale":{"domain":[15,18],"range":[454,1112],"nice":false,"zero":false},"axis":null},"text":{"field":"t","type":"nominal"}}},
{"data":{"name":"jdText"},"mark":{"type":"text","align":"center","baseline":"middle","font":"Liberation Serif","fontWeight":"bold","fontSize":55},"encoding":{"x":{"field":"jd","type":"quantitative","scale":{"domain":[750,870,1080,1100],"range":[95,911,959,1095],"nice":false,"zero":false},"axis":null},"y":{"field":"m","type":"quantitative","scale":{"domain":[15,18],"range":[454,1112],"nice":false,"zero":false},"axis":null},"text":{"field":"t","type":"nominal"}}},
{"data":{"name":"breaks"},"mark":{"type":"text","align":"center","baseline":"middle","font":"DejaVu Sans","fontSize":40,"text":"≀≀"},"encoding":{"x":{"field":"jd","type":"quantitative","scale":{"domain":[750,870,1080,1100],"range":[95,911,959,1095],"nice":false,"zero":false},"axis":null},"y":{"field":"m","type":"quantitative","scale":{"domain":[15,18],"range":[454,1112],"nice":false,"zero":false},"axis":null}}},
{"data":{"name":"iCurve"},"mark":{"type":"line","strokeWidth":2},"encoding":{"x":{"field":"jd","type":"quantitative","scale":{"domain":[750,870,1080,1100],"range":[95,911,959,1095],"nice":false,"zero":false},"axis":null},"y":{"field":"m","type":"quantitative","scale":{"domain":[15,18],"range":[454,1112],"nice":false,"zero":false},"axis":null}}},
{"data":{"name":"iStar"},"mark":{"type":"rule","strokeWidth":2.5},"encoding":{"x":{"field":"jd","type":"quantitative","scale":{"domain":[750,870,1080,1100],"range":[95,911,959,1095],"nice":false,"zero":false},"axis":null},"y":{"field":"lo","type":"quantitative","scale":{"domain":[15,18],"range":[454,1112],"nice":false,"zero":false},"axis":null},"y2":{"field":"hi"}}},
{"data":{"name":"iStar"},"transform":[{"fold":["lo","hi"],"as":["k","e"]}],"mark":{"type":"tick","orient":"horizontal","size":25,"thickness":2.5,"opacity":1},"encoding":{"x":{"field":"jd","type":"quantitative","scale":{"domain":[750,870,1080,1100],"range":[95,911,959,1095],"nice":false,"zero":false},"axis":null},"y":{"field":"e","type":"quantitative","scale":{"domain":[15,18],"range":[454,1112],"nice":false,"zero":false},"axis":null}}},
{"data":{"name":"iStar"},"mark":{"type":"line","strokeWidth":2.5,"strokeDash":[3,7]},"encoding":{"x":{"field":"jd","type":"quantitative","scale":{"domain":[750,870,1080,1100],"range":[95,911,959,1095],"nice":false,"zero":false},"axis":null},"y":{"field":"m","type":"quantitative","scale":{"domain":[15,18],"range":[454,1112],"nice":false,"zero":false},"axis":null}}},
{"data":{"name":"iStar"},"mark":{"type":"point","shape":"M0,-1Q0.08,-0.08,1,0Q0.08,0.08,0,1Q-0.08,0.08,-1,0Q-0.08,-0.08,0,-1ZM-0.25,-0.25L0.25,-0.25L0.25,0.25L-0.25,0.25Z","filled":false,"size":560,"strokeWidth":2.4,"opacity":1},"encoding":{"x":{"field":"jd","type":"quantitative","scale":{"domain":[750,870,1080,1100],"range":[95,911,959,1095],"nice":false,"zero":false},"axis":null},"y":{"field":"m","type":"quantitative","scale":{"domain":[15,18],"range":[454,1112],"nice":false,"zero":false},"axis":null}}},
{"data":{"name":"iSq"},"mark":{"type":"rule","strokeWidth":2.5},"encoding":{"x":{"field":"jd","type":"quantitative","scale":{"domain":[750,870,1080,1100],"range":[95,911,959,1095],"nice":false,"zero":false},"axis":null},"y":{"field":"lo","type":"quantitative","scale":{"domain":[15,18],"range":[454,1112],"nice":false,"zero":false},"axis":null},"y2":{"field":"hi"}}},
{"data":{"name":"iSq"},"transform":[{"fold":["lo","hi"],"as":["k","e"]}],"mark":{"type":"tick","orient":"horizontal","size":25,"thickness":2.5,"opacity":1},"encoding":{"x":{"field":"jd","type":"quantitative","scale":{"domain":[750,870,1080,1100],"range":[95,911,959,1095],"nice":false,"zero":false},"axis":null},"y":{"field":"e","type":"quantitative","scale":{"domain":[15,18],"range":[454,1112],"nice":false,"zero":false},"axis":null}}},
{"data":{"name":"iSq"},"mark":{"type":"line","strokeWidth":2.5,"strokeDash":[3,7]},"encoding":{"x":{"field":"jd","type":"quantitative","scale":{"domain":[750,870,1080,1100],"range":[95,911,959,1095],"nice":false,"zero":false},"axis":null},"y":{"field":"m","type":"quantitative","scale":{"domain":[15,18],"range":[454,1112],"nice":false,"zero":false},"axis":null}}},
{"data":{"name":"iSq"},"mark":{"type":"point","shape":"square","filled":true,"size":361,"opacity":1},"encoding":{"x":{"field":"jd","type":"quantitative","scale":{"domain":[750,870,1080,1100],"range":[95,911,959,1095],"nice":false,"zero":false},"axis":null},"y":{"field":"m","type":"quantitative","scale":{"domain":[15,18],"range":[454,1112],"nice":false,"zero":false},"axis":null}}},
{"data":{"name":"iDot"},"mark":{"type":"rule","strokeWidth":2.5},"encoding":{"x":{"field":"jd","type":"quantitative","scale":{"domain":[750,870,1080,1100],"range":[95,911,959,1095],"nice":false,"zero":false},"axis":null},"y":{"field":"lo","type":"quantitative","scale":{"domain":[15,18],"range":[454,1112],"nice":false,"zero":false},"axis":null},"y2":{"field":"hi"}}},
{"data":{"name":"iDot"},"transform":[{"fold":["lo","hi"],"as":["k","e"]}],"mark":{"type":"tick","orient":"horizontal","size":12,"thickness":2.5,"opacity":1},"encoding":{"x":{"field":"jd","type":"quantitative","scale":{"domain":[750,870,1080,1100],"range":[95,911,959,1095],"nice":false,"zero":false},"axis":null},"y":{"field":"e","type":"quantitative","scale":{"domain":[15,18],"range":[454,1112],"nice":false,"zero":false},"axis":null}}},
{"data":{"name":"iDot"},"mark":{"type":"point","shape":"circle","filled":true,"size":100,"opacity":1},"encoding":{"x":{"field":"jd","type":"quantitative","scale":{"domain":[750,870,1080,1100],"range":[95,911,959,1095],"nice":false,"zero":false},"axis":null},"y":{"field":"m","type":"quantitative","scale":{"domain":[15,18],"range":[454,1112],"nice":false,"zero":false},"axis":null}}}
]},
{"layer":[
{"data":{"name":"mXL"},"mark":{"type":"tick","orient":"vertical","size":43,"thickness":2,"yOffset":21.5,"opacity":1},"encoding":{"x":{"field":"v","type":"quantitative","scale":{"domain":[42,1805],"range":[0,1168],"nice":false,"zero":false},"axis":null},"y":{"datum":16.8,"type":"quantitative","scale":{"domain":[16.8,18.6],"range":[0,1214],"nice":false,"zero":false},"axis":null}}},
{"data":{"name":"mXL"},"mark":{"type":"tick","orient":"vertical","size":43,"thickness":2,"yOffset":-21.5,"opacity":1},"encoding":{"x":{"field":"v","type":"quantitative","scale":{"domain":[42,1805],"range":[0,1168],"nice":false,"zero":false},"axis":null},"y":{"datum":18.6,"type":"quantitative","scale":{"domain":[16.8,18.6],"range":[0,1214],"nice":false,"zero":false},"axis":null}}},
{"data":{"name":"mXS"},"mark":{"type":"tick","orient":"vertical","size":22,"thickness":2,"yOffset":11,"opacity":1},"encoding":{"x":{"field":"v","type":"quantitative","scale":{"domain":[42,1805],"range":[0,1168],"nice":false,"zero":false},"axis":null},"y":{"datum":16.8,"type":"quantitative","scale":{"domain":[16.8,18.6],"range":[0,1214],"nice":false,"zero":false},"axis":null}}},
{"data":{"name":"mXS"},"mark":{"type":"tick","orient":"vertical","size":22,"thickness":2,"yOffset":-11,"opacity":1},"encoding":{"x":{"field":"v","type":"quantitative","scale":{"domain":[42,1805],"range":[0,1168],"nice":false,"zero":false},"axis":null},"y":{"datum":18.6,"type":"quantitative","scale":{"domain":[16.8,18.6],"range":[0,1214],"nice":false,"zero":false},"axis":null}}},
{"data":{"name":"mYL"},"mark":{"type":"tick","orient":"horizontal","size":43,"thickness":2,"xOffset":21.5,"opacity":1},"encoding":{"x":{"datum":42,"type":"quantitative","scale":{"domain":[42,1805],"range":[0,1168],"nice":false,"zero":false},"axis":null},"y":{"field":"v","type":"quantitative","scale":{"domain":[16.8,18.6],"range":[0,1214],"nice":false,"zero":false},"axis":null}}},
{"data":{"name":"mYL"},"mark":{"type":"tick","orient":"horizontal","size":43,"thickness":2,"xOffset":-21.5,"opacity":1},"encoding":{"x":{"datum":1805,"type":"quantitative","scale":{"domain":[42,1805],"range":[0,1168],"nice":false,"zero":false},"axis":null},"y":{"field":"v","type":"quantitative","scale":{"domain":[16.8,18.6],"range":[0,1214],"nice":false,"zero":false},"axis":null}}},
{"data":{"name":"mYS"},"mark":{"type":"tick","orient":"horizontal","size":22,"thickness":2,"xOffset":11,"opacity":1},"encoding":{"x":{"datum":42,"type":"quantitative","scale":{"domain":[42,1805],"range":[0,1168],"nice":false,"zero":false},"axis":null},"y":{"field":"v","type":"quantitative","scale":{"domain":[16.8,18.6],"range":[0,1214],"nice":false,"zero":false},"axis":null}}},
{"data":{"name":"mYS"},"mark":{"type":"tick","orient":"horizontal","size":22,"thickness":2,"xOffset":-11,"opacity":1},"encoding":{"x":{"datum":1805,"type":"quantitative","scale":{"domain":[42,1805],"range":[0,1168],"nice":false,"zero":false},"axis":null},"y":{"field":"v","type":"quantitative","scale":{"domain":[16.8,18.6],"range":[0,1214],"nice":false,"zero":false},"axis":null}}},
{"data":{"name":"mYLab"},"mark":{"type":"text","align":"right","baseline":"middle","dx":-40,"font":"DejaVu Sans","fontSize":62,"fontWeight":200},"encoding":{"x":{"datum":42,"type":"quantitative","scale":{"domain":[42,1805],"range":[0,1168],"nice":false,"zero":false},"axis":null},"y":{"field":"v","type":"quantitative","scale":{"domain":[16.8,18.6],"range":[0,1214],"nice":false,"zero":false},"axis":null},"text":{"field":"t","type":"nominal"}}},
{"data":{"name":"mXLab"},"mark":{"type":"text","align":"center","baseline":"alphabetic","dy":82,"font":"DejaVu Sans","fontSize":62,"fontWeight":200},"encoding":{"x":{"field":"v","type":"quantitative","scale":{"domain":[42,1805],"range":[0,1168],"nice":false,"zero":false},"axis":null},"y":{"datum":18.6,"type":"quantitative","scale":{"domain":[16.8,18.6],"range":[0,1214],"nice":false,"zero":false},"axis":null},"text":{"field":"t","type":"nominal"}}},
{"data":{"values":[{}]},"mark":{"type":"text","text":"Julian Day − \u00a02448000","align":"center","baseline":"alphabetic","dy":163,"font":"DejaVu Sans","fontSize":64,"fontWeight":200},"encoding":{"x":{"datum":923.5,"type":"quantitative","scale":{"domain":[42,1805],"range":[0,1168],"nice":false,"zero":false},"axis":null},"y":{"datum":18.6,"type":"quantitative","scale":{"domain":[16.8,18.6],"range":[0,1214],"nice":false,"zero":false},"axis":null}}},
{"data":{"values":[{}]},"mark":{"type":"text","text":"Magnitude","align":"center","baseline":"middle","angle":270,"font":"DejaVu Sans","fontSize":62,"fontWeight":200},"encoding":{"x":{"datum":-336.9,"type":"quantitative","scale":{"domain":[42,1805],"range":[0,1168],"nice":false,"zero":false},"axis":null},"y":{"datum":17.7,"type":"quantitative","scale":{"domain":[16.8,18.6],"range":[0,1214],"nice":false,"zero":false},"axis":null}}}
]}
]
}
